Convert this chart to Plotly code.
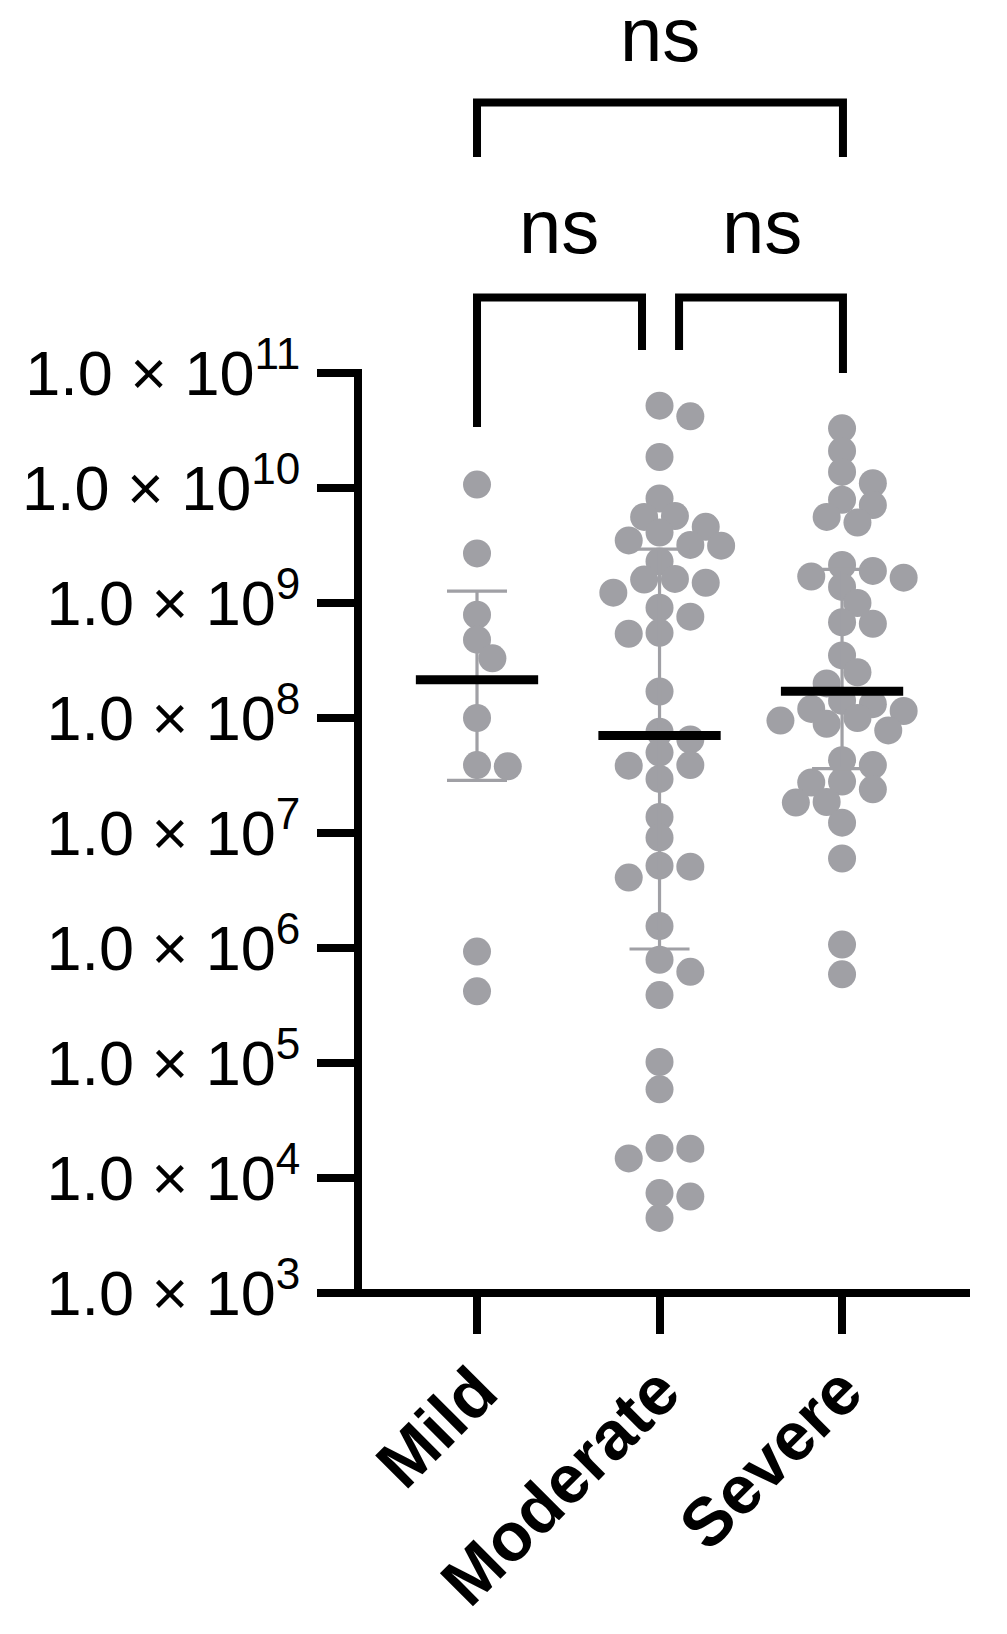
import numpy as np
import plotly.graph_objects as go

# ---------------- data ----------------
categories = ["Mild", "Moderate", "Severe"]

mild = [1.07e10, 2.7e9, 7.9e8, 4.8e8, 3.3e8, 1.0e8, 3.8e7, 3.9e7, 9.3e5, 4.2e5]

moderate = [5.2e10, 4.2e10, 1.86e10, 8.1e9, 5.6e9, 5.7e9, 4.6e9, 4.1e9, 3.5e9,
            3.2e9, 3.15e9, 2.3e9, 1.62e9, 1.6e9, 1.5e9, 1.23e9, 9.1e8, 7.6e8,
            5.5e8, 5.4e8, 1.7e8, 7.6e7, 6.5e7, 5.0e7, 3.9e7, 3.85e7, 2.95e7,
            1.38e7, 9.1e6, 5.2e6, 5.1e6, 4.1e6, 1.55e6, 7.9e5, 6.2e5, 3.9e5,
            1.02e5, 5.9e4, 1.8e4, 1.82e4, 1.48e4, 7.4e3, 6.9e3, 4.5e3]

severe = [3.3e10, 2.1e10, 1.38e10, 1.1e10, 7.9e9, 7.1e9, 5.6e9, 5.0e9, 2.14e9,
          1.9e9, 1.7e9, 1.66e9, 1.38e9, 1.0e9, 6.8e8, 6.6e8, 3.5e8, 2.5e8,
          2.0e8, 1.41e8, 1.32e8, 1.2e8, 1.15e8, 1.0e8, 9.5e7, 8.9e7, 7.8e7,
          4.3e7, 3.9e7, 2.8e7, 2.75e7, 2.4e7, 1.86e7, 1.84e7, 1.23e7, 6.0e6,
          1.07e6, 5.9e5]

groups = [mild, moderate, severe]

y_exponents = list(range(3, 12))
y_tickvals = [10.0 ** e for e in y_exponents]
y_ticktext = ["1.0 × 10<sup>%d</sup>" % e for e in y_exponents]

comparisons = [(0, 2, "ns"), (0, 1, "ns"), (1, 2, "ns")]

# ---------------- layout constants ----------------
W, H = 1007, 1634
M_L, M_R, M_T, M_B = 358, 37, 373, 341
X_RANGE = [-0.652, 2.701]
Y_RANGE = [3, 11]
FONT = "Liberation Sans, Arial, Helvetica, sans-serif"
GRAY = "#a0a0a5"
MARKER_D = 28
AXIS_W = 8

plot_w = W - M_L - M_R
plot_h = H - M_T - M_B
px_per_x = plot_w / (X_RANGE[1] - X_RANGE[0])
px_per_dec = plot_h / (Y_RANGE[1] - Y_RANGE[0])


def swarm_offsets(values):
    """Greedy beeswarm in pixel space; returns x offsets in axis units."""
    ly = np.log10(np.asarray(values, dtype=float)) * px_per_dec
    order = np.argsort(-ly)
    placed = []
    offs = np.zeros(len(values))
    step = 0.55 * MARKER_D
    thr = 0.74 * MARKER_D
    cands = [0]
    for k in range(1, 12):
        cands += [k, -k]
    for i in order:
        for k in cands:
            x = k * step
            ok = all((x - px) ** 2 + (ly[i] - py) ** 2 >= thr ** 2 for px, py in placed)
            if ok:
                placed.append((x, ly[i]))
                offs[i] = x / px_per_x
                break
    return offs


def prism_quantile(values, p):
    s = np.sort(np.asarray(values, dtype=float))
    n = len(s)
    pos = p * (n + 1)
    lo = int(np.floor(pos))
    frac = pos - lo
    lo = min(max(lo, 1), n)
    hi = min(lo + 1, n)
    return s[lo - 1] + frac * (s[hi - 1] - s[lo - 1])


fig = go.Figure()

# points
for gi, vals in enumerate(groups):
    offs = swarm_offsets(vals)
    fig.add_trace(go.Scatter(
        x=gi + offs, y=vals, mode="markers",
        marker=dict(size=MARKER_D, color=GRAY, line=dict(width=0)),
        showlegend=False, hoverinfo="y"))

# median + IQR
meds, q1s, q3s = [], [], []
for vals in groups:
    meds.append(prism_quantile(vals, 0.5))
    q1s.append(prism_quantile(vals, 0.25))
    q3s.append(prism_quantile(vals, 0.75))

fig.add_trace(go.Scatter(
    x=list(range(len(groups))), y=meds, mode="markers",
    marker=dict(size=1, color="rgba(0,0,0,0)"),
    error_y=dict(type="data", symmetric=False,
                 array=[q3 - m for q3, m in zip(q3s, meds)],
                 arrayminus=[m - q1 for m, q1 in zip(meds, q1s)],
                 color=GRAY, thickness=3.2, width=30),
    showlegend=False, hoverinfo="skip"))

half = 0.335
mx, my = [], []
for gi, m in enumerate(meds):
    mx += [gi - half, gi + half, None]
    my += [m, m, None]
fig.add_trace(go.Scatter(x=mx, y=my, mode="lines",
                         line=dict(color="black", width=9),
                         showlegend=False, hoverinfo="skip"))

# axis lines drawn centred on the plot edges
ext_x = (AXIS_W / 2) / plot_w
ext_y = (AXIS_W / 2) / plot_h
fig.add_shape(type="line", xref="paper", yref="paper", x0=0, x1=0,
              y0=-ext_y, y1=1 + ext_y, line=dict(color="black", width=AXIS_W))
fig.add_shape(type="line", xref="paper", yref="paper", x0=-ext_x, x1=1,
              y0=0, y1=0, line=dict(color="black", width=AXIS_W))


# significance brackets (paper y coordinates)
def ypaper(px):
    return (H - M_B - px) / plot_h


brackets = [
    # (x_left, x_right, y_bar_px, y_left_end_px, y_right_end_px, label_y_px, label_x)
    (0.0, 2.005, 102.5, 157, 157, 34, 1.0),
    (0.0, 0.904, 297.5, 427, 350, 227, 0.45),
    (1.107, 2.005, 297.5, 350, 373, 227, 1.56),
]
for (x0, x1, yb, yl, yr, ly, lx), (_, _, lab) in zip(brackets, comparisons):
    fig.add_shape(type="path", xref="x", yref="paper",
                  path="M %f,%f L %f,%f L %f,%f L %f,%f" % (
                      x0, ypaper(yl), x0, ypaper(yb), x1, ypaper(yb), x1, ypaper(yr)),
                  line=dict(color="black", width=8), layer="above")
    fig.add_annotation(x=lx, y=ypaper(ly), xref="x", yref="paper", text=lab,
                       showarrow=False, xanchor="center", yanchor="middle",
                       font=dict(family=FONT, size=76, color="black"))

fig.update_layout(
    width=W, height=H,
    margin=dict(l=M_L, r=M_R, t=M_T, b=M_B),
    paper_bgcolor="white", plot_bgcolor="white",
    showlegend=False,
    xaxis=dict(range=X_RANGE, tickvals=list(range(len(categories))), ticktext=categories,
               tickangle=-45, tickfont=dict(family=FONT, size=68, color="black", weight="bold"),
               ticklabelstandoff=-10,
               showline=False,
               ticks="outside", ticklen=40, tickwidth=8, tickcolor="black",
               showgrid=False, zeroline=False),
    yaxis=dict(type="log", range=Y_RANGE, tickvals=y_tickvals, ticktext=y_ticktext,
               tickfont=dict(family=FONT, size=63, color="black"),
               showline=False,
               ticks="outside", ticklen=40, tickwidth=8, tickcolor="black",
               ticklabelstandoff=4,
               showgrid=False, zeroline=False),
)

fig.write_html("out.html", config={"displayModeBar": False},
               post_script="document.body.style.margin='0px';document.body.style.overflow='hidden';")
